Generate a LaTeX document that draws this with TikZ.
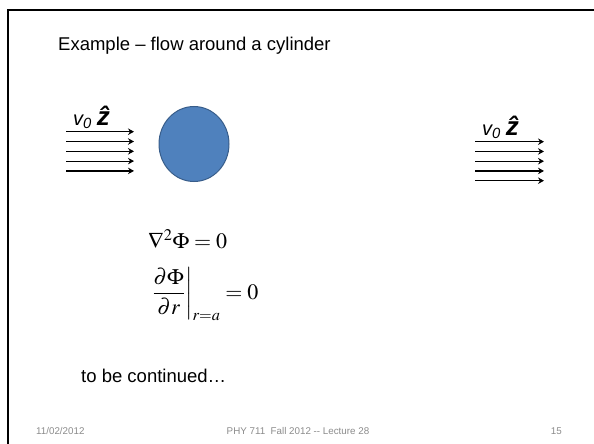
\documentclass[tikz,border=0pt]{standalone}
\usepackage{amsmath,amssymb}
\usepackage{mathptmx}
\usepackage[no-math]{fontspec}
\setmainfont{Liberation Sans}
\usepackage{tikz}
\usetikzlibrary{arrows.meta,positioning,shapes.geometric}
\definecolor{cylfill}{HTML}{4F81BD}
\definecolor{cyledge}{HTML}{385D8A}
\definecolor{footgray}{HTML}{8B8B8B}
\begin{document}
\begin{tikzpicture}[
  x=1pt,y=-1pt,
  flow/.style={-{Stealth[length=6pt,width=6.5pt,inset=2pt]}, line width=1.2pt},
  txt/.style={anchor=base west, inner sep=0pt, font=\fontsize{18.5}{22}\selectfont},
  eqn/.style={inner sep=0pt, font=\fontsize{22}{26}\selectfont},
  lbl/.style={inner sep=0pt, anchor=base west},
  foot/.style={inner sep=0pt, anchor=base, text=footgray, font=\fontsize{9.8}{12}\selectfont}
]
\useasboundingbox (0,0) rectangle (594,444);
\draw[line width=2.4pt] (8,444) -- (8,10) -- (594,10);
\node[txt] (title) at (58,51) {Example -- flow around a cylinder};
% incoming and outgoing flow
\foreach \i in {1,...,5} {
  \coordinate (inL\i) at (66,{131.7+9.8*(\i-1)});
  \coordinate (outL\i) at (134,{131.7+9.8*(\i-1)});
  \draw[flow] (inL\i) -- (outL\i);
  \coordinate (inR\i) at (475,{141.7+9.75*(\i-1)});
  \coordinate (outR\i) at (544,{141.7+9.75*(\i-1)});
  \draw[flow] (inR\i) -- (outR\i);
}
\node[lbl] (velL) at (73,125) {\fontsize{20}{24}\selectfont\itshape v\textsubscript{0}\hspace{5pt}{\fontsize{26}{26}\selectfont\bfseries\^{z}}};
\node[lbl] (velR) at (482,135) {\fontsize{20}{24}\selectfont\itshape v\textsubscript{0}\hspace{5pt}{\fontsize{26}{26}\selectfont\bfseries\^{z}}};
\node[ellipse, draw=cyledge, fill=cylfill, line width=1pt, minimum width=70pt, minimum height=75pt, inner sep=0pt] (cyl) at (194,144) {};
% equations
\node[eqn, anchor=base west] (lap) at (148,248) {$\nabla^2\Phi = 0$};
\node[eqn, anchor=west] (bc) at (151,294) {$\left.\dfrac{\partial\Phi}{\partial r}\right|_{r=a} = 0$};
\node[txt] (cont) at (81,382) {to be continued\ldots};
% footer
\node[foot, anchor=base west] (date) at (36,434) {11/02/2012};
\node[foot] (course) at (298,434) {PHY 711\ \ Fall 2012 -{}- Lecture 28};
\node[foot, anchor=base east] (page) at (562,434) {15};
\end{tikzpicture}
\end{document}
